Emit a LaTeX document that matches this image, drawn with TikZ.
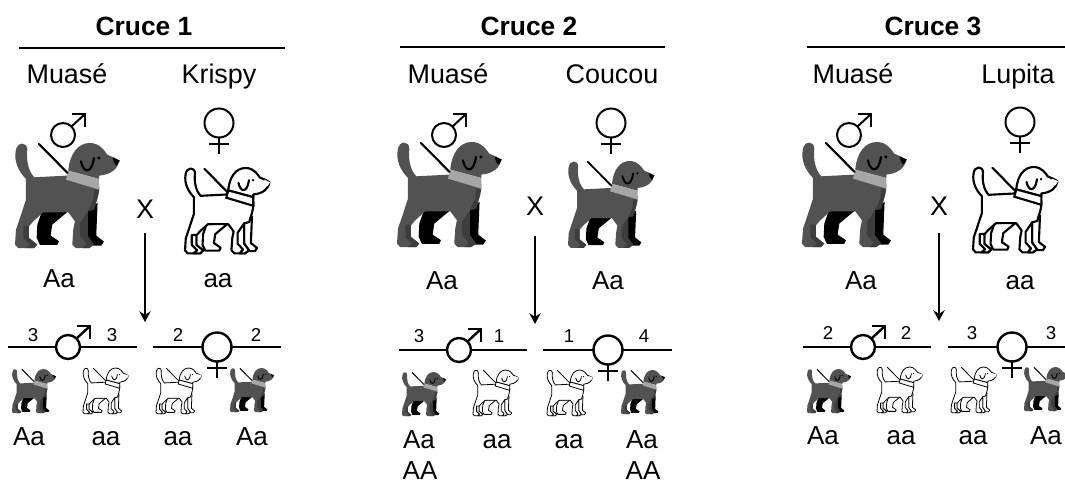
\documentclass[tikz,border=0pt]{standalone}
\usepackage{fontspec}
\setmainfont{Liberation Sans}
\usetikzlibrary{arrows.meta}
% one dog, written in its own units, the styles say how it looks
\newcommand{\dogshape}{
	\begin{scope}[shift={(-45,-160)}]
		\path[dogfar] (125,368) -- (205,365) -- (157,405) -- (152,438) -- (177,455) -- (172,466) -- (120,466) -- (110,445) -- (112,405) -- cycle;
		\path[dogfar] (255,362) -- (293,340) -- (289,438) -- (312,456) -- (304,468) -- (262,468) -- cycle;
		\path[dogbody] (78,268) .. controls (55,245) and (42,215) .. (47,185) .. controls (50,155) and (82,155) .. (82,180) .. controls (78,210) and (85,245) .. (103,263) -- (200,258) -- (298,285) .. controls (300,320) and (285,345) .. (283,360) -- (264,365) -- (264,440) -- (282,465) -- (267,476) -- (228,476) -- (217,465) -- (220,420) -- (225,395) -- (205,368) -- (130,368) -- (100,395) -- (87,410) -- (87,445) -- (112,465) -- (102,476) -- (55,476) -- (45,465) -- (48,420) -- (60,385) -- (78,330) -- cycle;
		\path[dogshade] (70,408) -- (87,408) -- (87,445) -- (112,465) -- (102,476) -- (76,476) -- (90,465) -- (70,445) -- cycle;
		\path[dogshade] (240,400) -- (264,365) -- (264,440) -- (282,465) -- (267,476) -- (247,476) -- (260,462) -- (240,440) -- cycle;
		\path[dogchest] (283,300) -- (298,300) -- (283,360) -- (264,365) -- (280,330) -- cycle;
		\path[dogbody] (205,243) .. controls (210,190) and (235,160) .. (270,160) .. controls (300,160) and (315,185) .. (322,195) -- (345,205) -- (358,213) .. controls (355,235) and (335,255) .. (298,258) -- (298,268) -- cycle;
		\path[dogcollar] (205,243) -- (298,268) -- (298,300) -- (198,270) -- cycle;
		\path[dogline] (117,163) -- (203,250);
		\path[dogline] (243,215) .. controls (250,250) and (275,255) .. (282,205);
		\path[fill=black] (297,205) circle (5);
		\path[dognose] (338,203) -- (360,213) -- (350,228) .. controls (345,225) and (340,215) .. (338,203) -- cycle;
	\end{scope}
}
\tikzset{
	title/.style={anchor=base,inner sep=0pt,font=\fontsize{19.8}{22}\selectfont\bfseries},
	plain/.style={anchor=base,inner sep=0pt,font=\fontsize{20.2}{22}\selectfont},
	gene/.style={anchor=base,inner sep=0pt,font=\fontsize{19.5}{22}\selectfont},
	num/.style={anchor=base,inner sep=0pt,font=\fontsize{14}{16}\selectfont},
	rule/.style={line width=1.7pt},
	cross/.style={line width=1.5pt,-{Stealth[length=8pt,width=8.5pt]}},
	pics/darkdog/.style={code={
		\tikzset{dogfar/.style={fill=black},dogbody/.style={fill=black!68},dogshade/.style={fill=black!76},dogchest/.style={fill=black!76},
			dogcollar/.style={fill=black!35},dogline/.style={draw=black,line width=#1,line cap=round},dognose/.style={fill=black}}
		\dogshape
	}},
	pics/whitedog/.style={code={
		\tikzset{dogfar/.style={draw=black,fill=white,line width=#1,line join=round},dogbody/.style={draw=black,fill=white,line width=#1,line join=round},
			dogshade/.style={draw=black,fill=white,line width=#1,line join=round},dogchest/.style={},dogcollar/.style={draw=black,fill=white,line width=#1},
			dogline/.style={draw=black,line width=#1,line cap=round},dognose/.style={fill=white}}
		\dogshape
	}},
	pics/malesym/.style={code={
		\draw[line width=#1,fill=white] (0,0) circle (12);
		\draw[line width=#1] (8.5,-8.5) -- (22,-21);
		\draw[line width=#1] (9,-21) -- (22,-21) -- (22,-8);
	}},
	pics/femalesym/.style={code={
		\draw[line width=#1] (0,14.5) -- (0,31);
		\draw[line width=#1] (-10,21) -- (10,21);
		\draw[line width=#1,fill=white] (0,0) circle (14.5);
	}}
}
\begin{document}
\begin{tikzpicture}[x=0.75pt,y=-0.75pt]
	\clip (0,0) rectangle (1065,483);
	\fill[white] (0,0) rectangle (1065,483);
	%titles
	\foreach \x/\ytext/\n in {144/Cruce 1/1,529/Cruce 2/2,933/Cruce 3/3} \node[title] (title\n) at (\x,35) {\ytext};
	\draw[rule] (19,48) -- (285,48);
	\draw[rule] (400,47) -- (665,47);
	\draw[rule] (807,47) -- (1065,47);
	\foreach \x/\ytext/\n in {67/Muasé/a,219/Krispy/b,448/Muasé/c,612/Coucou/d,853/Muasé/e,1018/Lupita/f} \node[plain] (name\n) at (\x,83) {\ytext};
	%parents, cruce 1
	\pic[scale=.333] at (15,143) {darkdog=1.6pt};
	\pic at (63,135) {malesym=1.5pt};
	\pic[scale=.27] at (185,168) {whitedog=1.6pt};
	\pic at (219,123) {femalesym=1.5pt};
	%parents, cruce 2
	\pic[scale=.333] at (397,142) {darkdog=1.6pt};
	\pic at (444,135) {malesym=1.5pt};
	\pic[scale=.275] at (568,161) {darkdog=1.4pt};
	\pic at (611,123) {femalesym=1.5pt};
	%parents, cruce 3
	\pic[scale=.333] at (802,142) {darkdog=1.6pt};
	\pic at (849,135) {malesym=1.5pt};
	\pic[scale=.27] at (973,167) {whitedog=1.6pt};
	\pic at (1020,122) {femalesym=1.5pt};
	%the X and the arrow below it
	\foreach \x/\y/\n in {145/218/1,535/215/2,939/215/3} \node[plain] (times\n) at (\x,\y) {X};
	\coordinate (from1) at (145,233);
	\coordinate (to1) at (145,322);
	\coordinate (from2) at (535,236);
	\coordinate (to2) at (535,324);
	\coordinate (from3) at (939,233);
	\coordinate (to3) at (939,321);
	\foreach \n in {1,2,3} \draw[cross] (from\n) -- (to\n);
	\foreach \x/\y/\ytext/\n in {59/287/Aa/a,218/287/aa/b,442/289/Aa/c,608/289/Aa/d,861/289/Aa/e,1020/289/aa/f} \node[gene] (parent\n) at (\x,\y) {\ytext};
	%offspring lines
	\draw[rule] (8,347) -- (137,347);
	\draw[rule] (153,347) -- (281,347);
	\draw[rule] (399,350) -- (527,350);
	\draw[rule] (543,350) -- (672,350);
	\draw[rule] (803,347) -- (931,347);
	\draw[rule] (948,347) -- (1065,347);
	\foreach \x/\y in {68/347,459/350,863/347} \pic at (\x,\y) {malesym=1.8pt};
	\foreach \x/\y in {217/347,608/350,1012/347} \pic at (\x,\y) {femalesym=1.8pt};
	\foreach \x/\y/\ytext in {33/341/3,112/341/3,178/341/2,256/341/2,419/342/3,499/342/1,569/342/1,644/342/4,828/339/2,906/339/2,972/339/3,1051/339/3} \node[num] (count\x) at (\x,\y) {\ytext};
	%offspring dogs
	\foreach \x/\y in {12/369,230/368,402/372,621/370,807/369,1024/367} \pic[scale=.14] at (\x,\y) {darkdog=.7pt};
	\foreach \x/\y in {83/368,156/368,473/370,547/370,877/367,951/367} \pic[scale=.145] at (\x,\y) {whitedog=.6pt};
	\foreach \x/\y/\ytext in {29/445/Aa,106/445/aa,178/445/aa,252/445/Aa,419/448/Aa,497/448/aa,569/448/aa,642/448/Aa,420/479/AA,643/479/AA,823/444/Aa,901/444/aa,973/444/aa,1046/444/Aa} \node[gene] (child\x) at (\x,\y) {\ytext};
\end{tikzpicture}
\end{document}
